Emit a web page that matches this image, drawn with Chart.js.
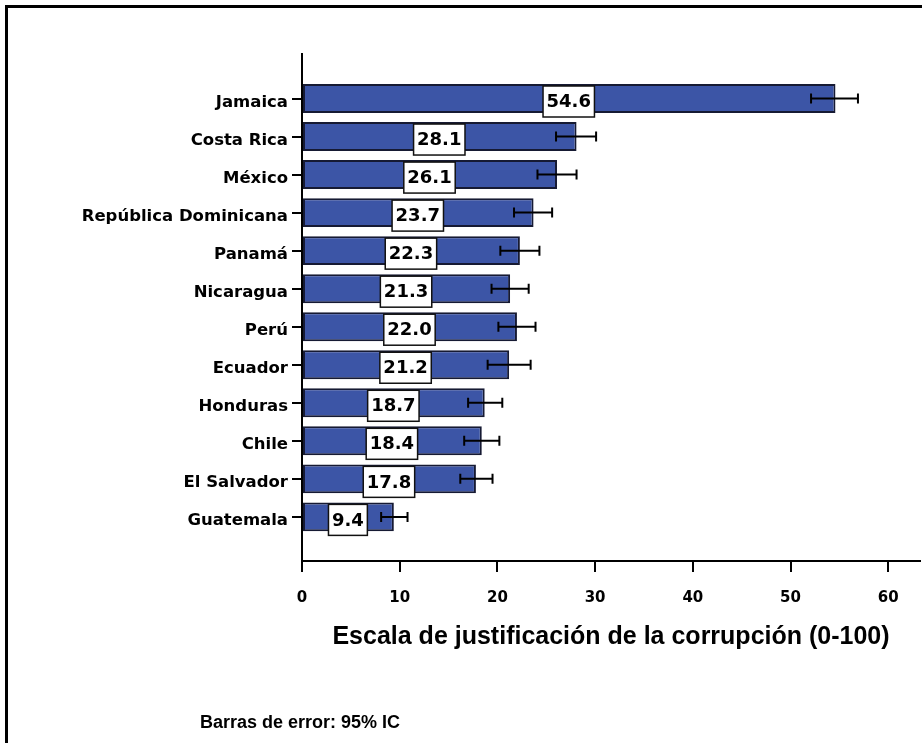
<!DOCTYPE html>
<html>
<head>
<meta charset="utf-8">
<script src="https://cdn.jsdelivr.net/npm/chart.js@4"></script>
<style>
  html, body { margin: 0; padding: 0; background: #fff; }
  #wrap { position: relative; width: 922px; height: 743px; overflow: hidden; }
  #frame { position: absolute; left: 5px; top: 5px; width: 940px; height: 760px;
           border-left: 3px solid #000; border-top: 3px solid #000; }
  #note { position: absolute; left: 0; width: 600px; top: 712px; text-align: center;
          font: bold 18px 'Liberation Sans', Arial, sans-serif; color: #000; }
  canvas { position: absolute; left: 0; top: 0; }
</style>
</head>
<body>
<div id="wrap">
  <div id="frame"></div>
  <canvas id="chart" width="922" height="743"></canvas>
  <div id="note">Barras de error: 95% IC</div>
</div>
<script>
// ===== Data =====
const countries = ['Jamaica', 'Costa Rica', 'México', 'República Dominicana', 'Panamá', 'Nicaragua',
                   'Perú', 'Ecuador', 'Honduras', 'Chile', 'El Salvador', 'Guatemala'];
const means   = [54.6, 28.1, 26.1, 23.7, 22.3, 21.3, 22.0, 21.2, 18.7, 18.4, 17.8, 9.4];
const ciLow   = [52.1, 26.0, 24.1, 21.7, 20.3, 19.4, 20.1, 19.0, 17.0, 16.6, 16.2, 8.1];
const ciHigh  = [56.9, 30.1, 28.1, 25.6, 24.3, 23.2, 23.9, 23.4, 20.5, 20.2, 19.5, 10.8];
const xTicks  = [0, 10, 20, 30, 40, 50, 60];

const BAR_BLUE = '#3c55a6';

// error bars + value boxes, drawn from the scales
const errorAndLabels = {
    id: 'errorAndLabels',
    afterDatasetsDraw(chart) {
        const { ctx, scales: { x, y } } = chart;
        ctx.save();
        // error bars
        ctx.strokeStyle = '#000';
        ctx.lineWidth = 2;
        means.forEach((m, i) => {
            const py = y.getPixelForValue(i);
            const x1 = x.getPixelForValue(ciLow[i]);
            const x2 = x.getPixelForValue(ciHigh[i]);
            ctx.beginPath();
            ctx.moveTo(x1, py); ctx.lineTo(x2, py);
            ctx.moveTo(x1, py - 5); ctx.lineTo(x1, py + 5);
            ctx.moveTo(x2, py - 5); ctx.lineTo(x2, py + 5);
            ctx.stroke();
        });
        // value labels in white boxes
        ctx.font = "bold 18px 'DejaVu Sans'";
        ctx.textAlign = 'center';
        ctx.textBaseline = 'middle';
        means.forEach((m, i) => {
            const txt = m.toFixed(1);
            const cx = x.getPixelForValue(m / 2);
            const cy = y.getPixelForValue(i) + 3;
            const w = ctx.measureText(txt).width + 7;
            const h = 31;
            ctx.fillStyle = '#fff';
            ctx.fillRect(cx - w / 2, cy - h / 2, w, h);
            ctx.lineWidth = 1.5;
            ctx.strokeStyle = '#111';
            ctx.strokeRect(cx - w / 2, cy - h / 2, w, h);
            ctx.fillStyle = '#000';
            ctx.fillText(txt, cx, cy + 1);
        });
        ctx.restore();
    }
};

new Chart(document.getElementById('chart'), {
    type: 'bar',
    data: {
        datasets: [{
            data: means.map((v, i) => ({ x: v, y: i })),
            backgroundColor: BAR_BLUE,
            borderColor: '#161a33',
            borderWidth: 2,
            borderSkipped: false,
            categoryPercentage: 0.8,
            barPercentage: 0.95
        }]
    },
    options: {
        indexAxis: 'y',
        responsive: false,
        animation: false,
        layout: { padding: { left: 0, top: 54, right: 2, bottom: 91 } },
        plugins: { legend: { display: false }, tooltip: { enabled: false } },
        scales: {
            x: {
                type: 'linear', min: 0, max: 63.25,
                afterBuildTicks: (s) => { s.ticks = xTicks.map(v => ({ value: v })); },
                afterFit: (s) => { s.height = 91; },
                grid: { drawOnChartArea: false, drawTicks: true, tickLength: 11, color: '#000', lineWidth: 2 },
                border: { display: true, color: '#000', width: 2 },
                ticks: { color: '#000', padding: 17, font: { family: 'DejaVu Sans', weight: 'bold', size: 15 } },
                title: {
                    display: true,
                    text: 'Escala de justificación de la corrupción (0-100)',
                    color: '#000',
                    padding: 0,
                    font: { family: 'Liberation Sans', weight: 'bold', size: 25 }
                }
            },
            y: {
                type: 'linear', reverse: true, min: -1.17, max: 12.16, offset: false,
                afterBuildTicks: (s) => { s.ticks = countries.map((_, i) => ({ value: i })); },
                afterFit: (s) => { s.width = 302; },
                grid: { offset: false, drawOnChartArea: false, drawTicks: true, tickLength: 10, color: '#000', lineWidth: 2 },
                border: { display: true, color: '#000', width: 2 },
                ticks: {
                    autoSkip: false, color: '#000', padding: 4, labelOffset: 4,
                    font: { family: 'DejaVu Sans', weight: 'bold', size: 16.5 },
                    callback: (v) => countries[v]
                }
            }
        }
    },
    plugins: [errorAndLabels]
});
</script>
</body>
</html>
